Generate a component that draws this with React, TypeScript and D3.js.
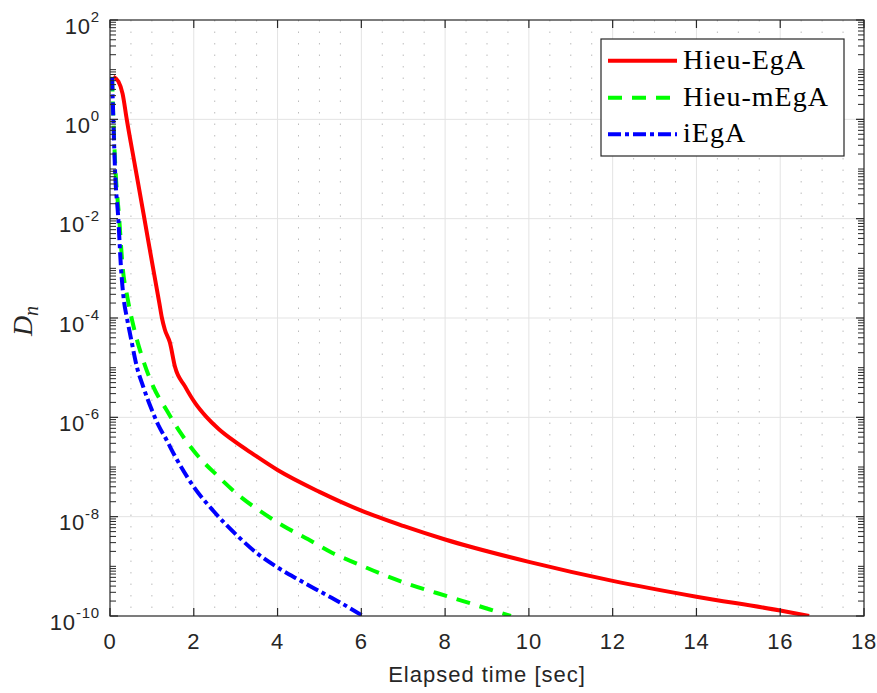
import React from 'react';
import * as d3 from 'd3';

const W = 877;
const H = 693;

const xTicks = [0, 2, 4, 6, 8, 10, 12, 14, 16, 18];
const yTickExps = [2, 0, -2, -4, -6, -8, -10];

const seriesNames = ['Hieu-EgA', 'Hieu-mEgA', 'iEgA'];

const redT = [0.08, 0.2, 0.3, 0.4, 0.6, 0.8, 1.0, 1.18, 1.24, 1.31, 1.43, 1.55, 1.79, 2.03, 2.3, 2.6, 3.0, 3.4, 4.0, 5.0, 6.0, 7.0, 8.0, 10.0, 12.0, 14.0, 16.0, 16.69];
const redD = [7.2, 5.8, 3.3, 1.0, 0.112, 0.0126, 1.38e-3, 1.95e-4, 1.0e-4, 5.8e-5, 3.2e-5, 1.05e-5, 4.2e-6, 1.95e-6, 1.02e-6, 5.75e-7, 3.16e-7, 1.86e-7, 8.7e-8, 3.16e-8, 1.32e-8, 6.5e-9, 3.47e-9, 1.23e-9, 5.1e-10, 2.45e-10, 1.29e-10, 1.0e-10];

const greenT = [0.05, 0.08, 0.13, 0.22, 0.3, 0.42, 0.6, 0.8, 1.03, 1.35, 1.69, 2.09, 2.58, 3.06, 3.58, 4.14, 4.73, 5.31, 5.91, 6.52, 7.16, 7.8, 8.43, 9.07, 9.57];
const greenD = [7.0, 1.0, 0.1, 0.01, 1.1e-3, 2.5e-4, 5.0e-5, 1.35e-5, 4.2e-6, 1.4e-6, 4.8e-7, 1.7e-7, 6.5e-8, 2.75e-8, 1.3e-8, 6.5e-9, 3.5e-9, 1.86e-9, 1.12e-9, 6.8e-10, 4.3e-10, 2.9e-10, 2.0e-10, 1.35e-10, 1.0e-10];

const blueT = [0.05, 0.08, 0.12, 0.2, 0.26, 0.34, 0.4, 0.52, 0.64, 0.79, 1.0, 1.15, 1.35, 1.55, 1.99, 2.47, 3.1, 3.5, 4.0, 4.5, 5.0, 5.5, 6.04];
const blueD = [7.0, 1.0, 0.095, 9.5e-3, 1.1e-3, 2.0e-4, 1.05e-4, 3.2e-5, 1.05e-5, 4.2e-6, 1.4e-6, 7.1e-7, 3.5e-7, 1.66e-7, 4.1e-8, 1.3e-8, 3.7e-9, 1.86e-9, 9.5e-10, 5.4e-10, 3.16e-10, 1.86e-10, 1.0e-10];

const AX = '#262626';
const SANS = '"Liberation Sans", Arial, Helvetica, sans-serif';
const SERIF = '"Liberation Serif", "Times New Roman", serif';

export default function App() {
  const left = 110, right = 864, top = 20, bottom = 616;
  const x = d3.scaleLinear().domain([0, 18]).range([left, right]);
  const y = d3.scaleLog().domain([1e-10, 1e2]).range([bottom, top]);

  const mk = (ts: number[], ds: number[]) =>
    d3.line<number>()
      .x((_, i) => x(ts[i]))
      .y((d) => y(d))
      .curve(d3.curveMonotoneX)(ds) || '';

  const series = [
    { name: seriesNames[0], path: mk(redT, redD), color: '#ff0000', dash: undefined as string | undefined },
    { name: seriesNames[1], path: mk(greenT, greenD), color: '#00ff00', dash: '14,10' },
    { name: seriesNames[2], path: mk(blueT, blueD), color: '#0000ff', dash: '13,4,4,4' },
  ];

  const minorX = d3.range(0.5, 18, 0.5).filter((v) => Math.abs(v % 2) > 1e-9);
  const minorY: number[] = [];
  for (let k = -10; k < 2; k++) {
    for (let m = 1; m <= 9; m++) {
      const v = m * Math.pow(10, k);
      if (m === 1 && k % 2 === 0) continue;
      minorY.push(v);
    }
  }

  const legX = 601, legY = 39, legW = 243, legH = 117;
  const rowY = [60.7, 97.7, 134.3];

  return (
    <svg width={W} height={H} style={{ position: 'absolute', left: 0, top: 0, background: '#fff' }}>
      <defs>
        <clipPath id="plotclip">
          <rect x={left} y={top} width={right - left} height={bottom - top} />
        </clipPath>
      </defs>
      <rect x={0} y={0} width={W} height={H} fill="#fff" />
      {minorX.map((v) => (
        <line key={'mx' + v} x1={x(v)} x2={x(v)} y1={top} y2={bottom} stroke="#bdbdbd" strokeWidth={1} strokeDasharray="1.5,10" />
      ))}
      {xTicks.slice(1, -1).map((v) => (
        <line key={'gx' + v} x1={x(v)} x2={x(v)} y1={top} y2={bottom} stroke="#e3e3e3" strokeWidth={1} />
      ))}
      {yTickExps.slice(1, -1).map((e) => (
        <line key={'gy' + e} x1={left} x2={right} y1={y(Math.pow(10, e))} y2={y(Math.pow(10, e))} stroke="#e3e3e3" strokeWidth={1} />
      ))}
      <g clipPath="url(#plotclip)">
        {series.map((s) => (
          <path key={s.name} d={s.path} fill="none" stroke={s.color} strokeWidth={4} strokeDasharray={s.dash} strokeLinejoin="round" />
        ))}
      </g>
      <rect x={left} y={top} width={right - left} height={bottom - top} fill="none" stroke={AX} strokeWidth={1.2} />
      {xTicks.map((v) => (
        <g key={'xt' + v}>
          <line x1={x(v)} x2={x(v)} y1={bottom} y2={bottom - 8} stroke={AX} strokeWidth={1.2} />
          <line x1={x(v)} x2={x(v)} y1={top} y2={top + 8} stroke={AX} strokeWidth={1.2} />
          <text x={x(v)} y={649} textAnchor="middle" fontFamily={SANS} fontSize={22} fill={AX} style={{ letterSpacing: '0.8px' }}>{v}</text>
        </g>
      ))}
      {yTickExps.map((e) => {
        const yy = y(Math.pow(10, e));
        return (
          <g key={'yt' + e}>
            <line x1={left} x2={left + 8} y1={yy} y2={yy} stroke={AX} strokeWidth={1.2} />
            <line x1={right} x2={right - 8} y1={yy} y2={yy} stroke={AX} strokeWidth={1.2} />
            <text x={100} y={yy + 13.5} textAnchor="end" fontFamily={SANS} fontSize={22} fill={AX} style={{ letterSpacing: '0.8px' }}>
              10<tspan dy={-11.5} fontSize={15}>{e}</tspan>
            </text>
          </g>
        );
      })}
      {minorY.map((v, i) => (
        <g key={'my' + i}>
          <line x1={left} x2={left + 6} y1={y(v)} y2={y(v)} stroke={AX} strokeWidth={1} />
          <line x1={right} x2={right - 6} y1={y(v)} y2={y(v)} stroke={AX} strokeWidth={1} />
        </g>
      ))}
      <text x={487} y={682} textAnchor="middle" fontFamily={SANS} fontSize={22} fill={AX} style={{ letterSpacing: '1px' }}>Elapsed time [sec]</text>
      <text transform="translate(31.5,321) rotate(-90)" textAnchor="middle" fontFamily={SERIF} fontStyle="italic" fontSize={28} fill={AX}>
        D<tspan dy={6} fontSize={20}>n</tspan>
      </text>
      <rect x={legX} y={legY} width={legW} height={legH} fill="#fff" stroke={AX} strokeWidth={1.2} />
      {series.map((s, i) => (
        <g key={'lg' + s.name}>
          <line x1={608} x2={677} y1={rowY[i]} y2={rowY[i]} stroke={s.color} strokeWidth={4} strokeDasharray={s.dash} />
          <text x={683} y={rowY[i] + 8} fontFamily={SERIF} fontSize={28} fill="#000" style={{ letterSpacing: '1px' }}>{s.name}</text>
        </g>
      ))}
    </svg>
  );
}
